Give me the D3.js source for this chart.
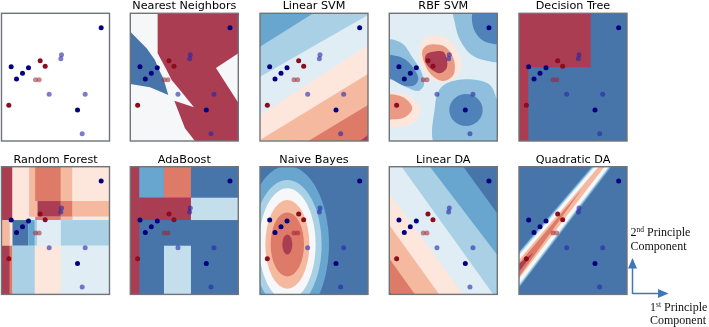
<!DOCTYPE html>
<html>
<head>
<meta charset="utf-8">
<script src="https://cdnjs.cloudflare.com/ajax/libs/d3/7.8.5/d3.min.js"></script>
<style>
html,body{margin:0;padding:0;background:#fff;}
svg{display:block;}
</style>
</head>
<body>
<div id="plot"></div>
<script>
//Set Height and Width Vars;
const w=709;
const h=327;

//Titles, left to right and top to bottom;
const titles=["","Nearest Neighbors","Linear SVM","RBF SVM","Decision Tree",
			  "Random Forest","AdaBoost","Naive Bayes","Linear DA","Quadratic DA"];

//Sample points, [1st component, 2nd component];
const trainBlue=[[299,340],[29,223],[81,220],[63,203],[45,186],[228,93]];
const trainRed=[[116,241],[131,224],[22,107]];
const testBlue=[[180,259],[178,247],[143,140],[251,140],[242,22]];
const testRed=[[102,184],[113,184]];

//Decision levels, from sure blue to sure red;
const levels=[-5,-4.5,-4,-3.5,-3,-2,-1,0,1,2,2.5,3,4];
const levelColors=["#4675aa","#4f82b8","#68a6cf","#8fbfdc","#a9d0e5","#c5deec","#e0edf4","#f5f7f8","#fde7dc","#f5b99f","#ea9a82","#dd7a68","#ab3d52"];

//Region outlines, first number is the level;
const knnPolys=[
	[4,[82,383],[82,263],[109,213],[124,183],[149,153],[191,101],[132,121],[164,38],[194,0],[324,0],[324,115],[257,219],[324,263],[324,383]],
	[-5,[0,328],[49,278],[74,243],[84,218],[99,188],[114,138],[59,161],[0,171]]
];
const svmPolys=[
	[-4,[0,383],[160,383],[0,283]],
	[-1,[0,193],[324,378],[324,0],[0,0]],
	[1,[0,78],[324,288],[324,0],[0,0]],
	[2,[0,3],[324,201],[324,0]],
	[3,[145,0],[324,108],[324,0]],
	[4,[300,0],[324,18],[324,0]]
];
const treePolys=[
	[4,[0,383],[215,383],[215,221],[28,221],[28,0],[0,0]]
];
const ldaPolys=[
	[-4,[0,383],[222,383],[324,243],[324,0],[0,0]],
	[-3,[0,383],[122,383],[324,118],[324,0],[0,0]],
	[-1,[0,383],[37,383],[312,0],[0,0]],
	[1,[0,303],[222,0],[0,0]],
	[2,[0,208],[150,0],[0,0]],
	[3,[0,108],[77,0],[0,0]],
	[4,[0,8],[7,0],[0,0]]
];
const qdaPolys=[
	[-4,[0,128],[218,383],[277,383],[0,20]],
	[-3,[0,124],[222,383],[273,383],[0,24]],
	[0,[0,118],[226,383],[269,383],[0,30]],
	[2,[0,103],[239,383],[256,383],[0,48]],
	[3,[0,93],[189,316],[0,53]],
	[4,[0,92],[44,126],[0,68]]
];

//Rectangles, [level, x0, x1, y0, y1];
const forestRects=[
	[4,0,33,223,383],[1,33,83,223,383],[2,83,108,233,383],[3,101,178,280,383],[2,178,213,233,383],[1,213,324,280,383],
	[4,108,178,233,280],[3,178,213,233,280],[2,213,324,233,280],
	[3,101,178,223,233],[1,213,324,223,233],[2,178,213,223,233],
	[2,0,25,146,223],[1,25,33,146,223],[-5,33,80,146,223],[-4,80,100,146,223],[-3,100,107,146,223],[-1,107,178,146,223],[-3,178,324,146,223],
	[4,0,25,0,146],[3,25,33,0,146],[-3,33,100,0,146],[1,100,178,0,146],[-1,178,324,0,146]
];
const adaRects=[
	[4,0,27,0,383],[-4,27,101,290,383],[3,101,182,290,383],
	[4,27,182,223,290],[-2,182,324,223,290],[-2,101,182,0,146]
];

//Smooth outlines for the RBF kernel;
const rbfBlobs=[
	[-3.5,[194,393],[197,353],[212,303],[247,258],[292,241],[342,241],[342,393]],
	[-4.5,[250,348],[272,308],[302,293],[342,295],[342,393],[255,393]],
	[-3.5,[-18,305],[5,305],[40,292],[70,250],[95,210],[104,168],[87,150],[55,160],[20,178],[-18,198]],
	[-4.5,[-20,255],[22,255],[47,245],[72,220],[87,188],[77,168],[47,165],[12,183],[-20,200]],
	[1,[112,311],[172,308],[212,253],[212,208],[172,178],[122,188],[94,238],[92,283]],
	[2.5,[117,288],[167,283],[194,243],[192,198],[162,180],[127,198],[102,243],[100,273]],
	[4,[132,268],[162,268],[172,248],[172,218],[152,203],[122,218],[107,243],[112,261]],
	[1,[-18,138],[52,138],[92,98],[77,58],[32,43],[-18,48]],
	[2.5,[-18,135],[42,131],[69,98],[47,71],[12,65],[-18,68]],
	[-3.5,[172,173],[242,185],[302,168],[324,123],[342,93],[342,-17],[140,-17],[137,103],[147,148]]
];

//Ellipses, [level, cx, cy, rx, ry];
const rbfEllipses=[[-4.5,230,93,50,48]];
const bayesEllipses=[
	[-4,82,150,125,235],[-3,82,150,103,193],[0,82,150,85,168],
	[2,82,150,66,133],[3,82,150,50,96],[4,82,150,15,30]
];

//Panels, built from the lists above;
const panels=[
	{bg:null},
	{bg:0,polys:knnPolys},
	{bg:-3,polys:svmPolys},
	{bg:-1,blobs:rbfBlobs,ellipses:rbfEllipses},
	{bg:-5,polys:treePolys},
	{bg:-1,rects:forestRects},
	{bg:-5,rects:adaRects},
	{bg:-5,ellipses:bayesEllipses},
	{bg:-5,polys:ldaPolys},
	{bg:-5,polys:qdaPolys}
];

//Layout;
const colX=[1.5,130.3,260,389.3,519];
const rowY=[13.3,166.7];
const pw=108;
const ph=127.7;

const colScale=d3.scaleOrdinal().domain(levels).range(levelColors);
const x=d3.scaleLinear().domain([0,324]).range([0,pw]);
const y=d3.scaleLinear().domain([0,383]).range([ph,0]);

const polyLine=d3.line().x(function(d){ return x(d[0]); }).y(function(d){ return y(d[1]); }).curve(d3.curveLinearClosed);
const blobLine=d3.line().x(function(d){ return x(d[0]); }).y(function(d){ return y(d[1]); }).curve(d3.curveCatmullRomClosed.alpha(0.5));

//Initialize SVG;
const svg=d3.select("#plot")
			.append("svg")
			  .attr("width",w)
			  .attr("height",h);

//The picture is a soft scan;
svg.append("defs")
   .append("filter")
	 .attr("id","soft")
	 .attr("filterUnits","userSpaceOnUse")
	 .attr("x",0)
	 .attr("y",0)
	 .attr("width",w)
	 .attr("height",h)
   .append("feGaussianBlur")
	 .attr("stdDeviation",0.55);

const root=svg.append("g").attr("filter","url(#soft)");

//Keeps the blur from dropping the page edge;
root.append("rect")
	.attr("width",w)
	.attr("height",h)
	.attr("fill","#fff");

panels.forEach(function(p,i){
	const g=root.append("g")
				.attr("transform","translate("+colX[i%5]+","+rowY[Math.floor(i/5)]+")");

	g.append("clipPath")
		.attr("id","clip"+i)
	  .append("rect")
		.attr("width",pw)
		.attr("height",ph);

	const body=g.append("g").attr("clip-path","url(#clip"+i+")");

	body.append("rect")
		.attr("width",pw)
		.attr("height",ph)
		.attr("fill",p.bg===null ? "#fff" : colScale(p.bg));

	body.selectAll("path.poly")
		.data(p.polys||[])
		.enter()
	  .append("path")
		.attr("class","poly")
		.attr("d",function(d){ return polyLine(d.slice(1)); })
		.attr("fill",function(d){ return colScale(d[0]); });

	body.selectAll("rect.cell")
		.data(p.rects||[])
		.enter()
	  .append("rect")
		.attr("class","cell")
		.attr("x",function(d){ return x(d[1]); })
		.attr("width",function(d){ return x(d[2])-x(d[1]); })
		.attr("y",function(d){ return y(d[4]); })
		.attr("height",function(d){ return y(d[3])-y(d[4]); })
		.attr("fill",function(d){ return colScale(d[0]); });

	body.selectAll("path.blob")
		.data(p.blobs||[])
		.enter()
	  .append("path")
		.attr("class","blob")
		.attr("d",function(d){ return blobLine(d.slice(1)); })
		.attr("fill",function(d){ return colScale(d[0]); });

	body.selectAll("ellipse")
		.data(p.ellipses||[])
		.enter()
	  .append("ellipse")
		.attr("cx",function(d){ return x(d[1]); })
		.attr("cy",function(d){ return y(d[2]); })
		.attr("rx",function(d){ return x(d[3]); })
		.attr("ry",function(d){ return ph-y(d[4]); })
		.attr("fill",function(d){ return colScale(d[0]); });

	//Points;
	const dots=function(data,fill,opacity){
		g.selectAll(null)
		 .data(data)
		 .enter()
		 .append("circle")
		   .attr("cx",function(d){ return x(d[0]); })
		   .attr("cy",function(d){ return y(d[1]); })
		   .attr("r",2.5)
		   .attr("fill",fill)
		   .attr("opacity",opacity);
	};
	dots(trainBlue,"#000080",1);
	dots(trainRed,"#8c0a1c",1);
	dots(testBlue,"#2424aa",0.6);
	dots(testRed,"#a0202c",0.55);

	//Frame;
	g.append("rect")
		.attr("width",pw)
		.attr("height",ph)
		.attr("fill","none")
		.attr("stroke","#6f7378")
		.attr("stroke-width",1.4);

	//Title;
	g.append("text")
		.attr("x",pw/2)
		.attr("y",-4)
		.attr("text-anchor","middle")
		.attr("font-family","'DejaVu Sans',sans-serif")
		.attr("font-size",11.2)
		.attr("fill","#000")
		.text(titles[i]);
});

//Axis arrows;
const arrowBlue="#3f78b5";
root.append("path")
	.attr("d","M632.5,294V268M632.5,293.5H660")
	.attr("fill","none")
	.attr("stroke",arrowBlue)
	.attr("stroke-width",1.5);
root.append("path")
	.attr("d","M632.5,258L628,268.5H637Z")
	.attr("fill",arrowBlue);
root.append("path")
	.attr("d","M668.5,293.5L658,289V298Z")
	.attr("fill",arrowBlue);

//Axis captions;
const caption=function(px,py,first,sup,rest,second,px2){
	const t=root.append("text")
				.attr("x",px)
				.attr("y",py)
				.attr("font-family","'Liberation Serif',serif")
				.attr("font-size",12)
				.attr("fill","#111");
	t.append("tspan").text(first);
	t.append("tspan").attr("font-size",7.5).attr("dy",-4).text(sup);
	t.append("tspan").attr("dy",4).text(" "+rest);
	root.append("text")
		.attr("x",px2)
		.attr("y",py+13.6)
		.attr("font-family","'Liberation Serif',serif")
		.attr("font-size",12)
		.attr("fill","#111")
		.text(second);
};
caption(630.5,236,"2","nd","Principle","Component",630.5);
caption(650,310.5,"1","st","Principle","Component",650);
</script>
</body>
</html>
